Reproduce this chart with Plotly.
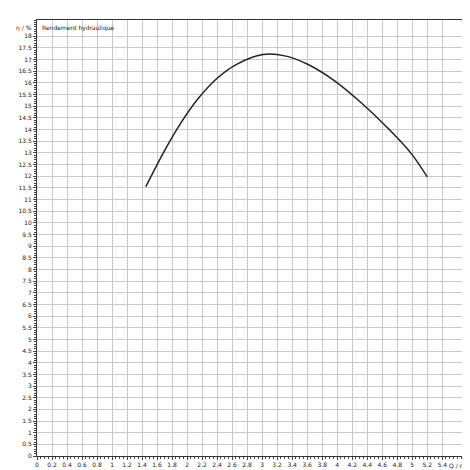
import plotly.graph_objects as go

q = [1.45, 1.70, 1.92, 2.14, 2.40, 2.66, 3.01, 3.32, 3.62, 3.97, 4.32, 4.67, 4.98, 5.20]
eta = [11.55, 13.1, 14.3, 15.3, 16.2, 16.8, 17.22, 17.15, 16.78, 16.08, 15.15, 14.08, 13.0, 11.97]
xticks = [round(i * 0.2, 1) for i in range(28)]
yticks = [i * 0.5 for i in range(37)]

fig = go.Figure()
fig.add_trace(go.Scatter(x=q, y=eta, mode="lines", line=dict(color="#222", width=1.5, shape="spline", smoothing=1.0),
                         showlegend=False, hoverinfo="skip"))
fig.update_layout(
    width=470, height=470, margin=dict(l=24, r=10, t=12, b=17),
    paper_bgcolor="white", plot_bgcolor="white",
    font=dict(family="DejaVu Sans", size=6, color="#222"),
    xaxis=dict(range=[0, 5.73], tickvals=xticks, ticktext=["%g" % v for v in xticks],
               showgrid=True, gridcolor="#c8c8c8", gridwidth=1, zeroline=False,
               showline=True, linecolor="#333", mirror=True, ticks="outside", ticklen=3,
               minor=dict(dtick=0.05, ticks="outside", ticklen=2, showgrid=False)),
    yaxis=dict(range=[0, 18.7], tickvals=yticks, ticktext=["%g" % v for v in yticks],
               showgrid=True, gridcolor="#c8c8c8", gridwidth=1, zeroline=False,
               showline=True, linecolor="#333", mirror=True, ticks="outside", ticklen=3,
               minor=dict(dtick=0.1, ticks="outside", ticklen=2, showgrid=False)),
    annotations=[
        dict(x=0, y=1, xref="paper", yref="paper", text="Rendement hydraulique", showarrow=False,
             xanchor="left", yanchor="top", xshift=3, yshift=-2, font=dict(size=6)),
        dict(x=0, y=1, xref="paper", yref="paper", text="η / %", showarrow=False,
             xanchor="right", yanchor="top", xshift=-3, yshift=-2, font=dict(size=6)),
        dict(x=5.47, y=0, xref="x", yref="paper", text="Q / m³/h", showarrow=False,
             xanchor="left", yanchor="top", yshift=-4, font=dict(size=6)),
    ],
)
fig.write_html("out.html")
